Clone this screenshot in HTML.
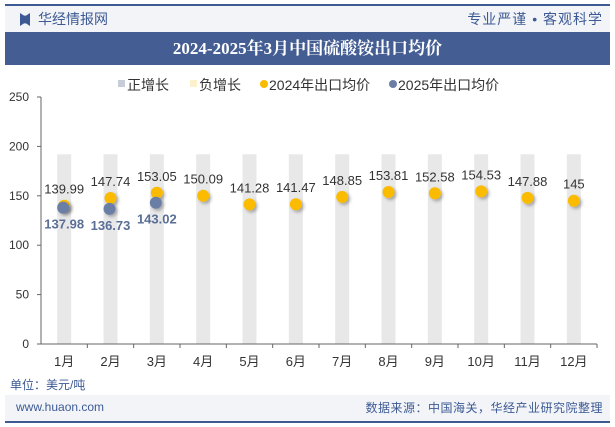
<!DOCTYPE html>
<html><head><meta charset="utf-8"><style>
body{margin:0;width:615px;height:427px;overflow:hidden;background:#fff;font-family:"Liberation Sans","Noto Sans CJK SC",sans-serif;position:relative}
.abs{position:absolute}
</style></head><body>
<div class="abs" style="left:5px;top:4px;width:605px;height:2px;background:#3d5a94"></div>
<div class="abs" style="left:5px;top:6px;width:605px;height:26px;background:#f2f4f8"></div>
<div class="abs" style="left:20px;top:13px;width:10px;height:13px;background:#3d5a94;clip-path:polygon(0 0,40% 20%,60% 20%,100% 0,100% 100%,60% 80%,40% 80%,0 100%)"></div>
<div class="abs" style="left:38px;top:9px;font-size:14px;color:#3d5a94">华经情报网</div>
<div class="abs" style="right:12px;top:9px;font-size:14px;color:#3d5a94;letter-spacing:1px">专业严谨 • 客观科学</div>
<div class="abs" style="left:5px;top:32px;width:605px;height:33px;background:#445d93;color:#fff;font:bold 17px 'Liberation Serif','Noto Serif CJK SC',serif;text-align:center;line-height:33px">2024-2025年3月中国硫酸铵出口均价</div>
<svg class="abs" style="left:0;top:0" width="615" height="427" id="chart"></svg>
<div class="abs" style="left:10px;top:376px;font-size:12px;color:#3d5a94">单位：美元/吨</div>
<div class="abs" style="left:5px;top:395px;width:605px;height:26px;background:#f2f4f8"></div>
<div class="abs" style="left:16px;top:400px;font-size:12px;color:#3d5a94">www.huaon.com</div>
<div class="abs" style="right:12px;top:399px;font-size:12px;color:#3d5a94;letter-spacing:0.5px">数据来源：中国海关，华经产业研究院整理</div>
<div class="abs" style="left:5px;top:421px;width:605px;height:2px;background:#3d5a94"></div>
<script>
const categories=["1月","2月","3月","4月","5月","6月","7月","8月","9月","10月","11月","12月"];
const s2024=[139.99,147.74,153.05,150.09,141.28,141.47,148.85,153.81,152.58,154.53,147.88,145];
const s2025=[137.98,136.73,143.02];
const bgBars=[192,192,192,192,192,192,192,192,192,192,192,192];
const yTicks=[0,50,100,150,200,250];
const NS="http://www.w3.org/2000/svg";
const svg=document.getElementById('chart');
const x0=41,x1=597,y0=344,yTop=97,yMax=250;
const cw=(x1-x0)/categories.length;
const X=i=>x0+cw*(i+0.5);
const Y=v=>y0-(v/yMax)*(y0-yTop);
function mk(t,a,txt){const e=document.createElementNS(NS,t);for(const k in a)e.setAttribute(k,a[k]);if(txt!==undefined)e.textContent=txt;svg.appendChild(e);return e;}
const defs=mk('defs',{});defs.innerHTML='<filter id="sh" x="-50%" y="-50%" width="200%" height="200%"><feDropShadow dx="2" dy="2" stdDeviation="1.5" flood-color="#000" flood-opacity="0.3"/></filter>';
let g=mk('rect',{x:118,y:80,width:7,height:7,fill:'#c6ccd8'});
mk('text',{x:127,y:90,'font-size':14,fill:'#333'},'正增长');
g=mk('rect',{x:190,y:80,width:7,height:7,fill:'#fdf0cc'});
mk('text',{x:199,y:90,'font-size':14,fill:'#333'},'负增长');
g=mk('circle',{cx:264,cy:84,r:4,fill:'#fbbb00'});
mk('text',{x:269,y:90,'font-size':14,fill:'#333'},'2024年出口均价');
g=mk('circle',{cx:393,cy:84,r:4,fill:'#6a7ea6'});
mk('text',{x:398,y:90,'font-size':14,fill:'#333'},'2025年出口均价');
yTicks.forEach(v=>{const t=mk('text',{x:29,y:Y(v)+4,'font-size':12,fill:'#333','text-anchor':'end'},v);mk('line',{x1:37,x2:x0,y1:Y(v),y2:Y(v),stroke:'#666'});});
mk('line',{x1:x0,x2:x0,y1:yTop,y2:y0,stroke:'#666'});
bgBars.forEach((v,i)=>{const r=mk('rect',{x:X(i)-7,y:Y(v),width:14,height:y0-Y(v),fill:'#e8e8e8'});});
mk('line',{x1:x0,x2:x1,y1:y0,y2:y0,stroke:'#666'});
categories.forEach((c,i)=>{mk('line',{x1:x0+cw*(i+1),x2:x0+cw*(i+1),y1:y0,y2:y0+4,stroke:'#666'});const t=mk('text',{x:X(i),y:366,'font-size':13,fill:'#333','text-anchor':'middle'},c);});
s2024.forEach((v,i)=>{const c=mk('circle',{cx:X(i),cy:Y(v),r:6,fill:'#fbbb00',filter:'url(#sh)'});
const l=mk('text',{x:X(i),y:Y(v)-12,'font-size':13,fill:'#333','text-anchor':'middle'},v);});
s2025.forEach((v,i)=>{const c=mk('circle',{cx:X(i)-1,cy:Y(v),r:6,fill:'#6a7ea6',filter:'url(#sh)'});
const l=mk('text',{x:X(i),y:Y(v)+21,'font-size':13,'font-weight':'bold',fill:'#5a6e96','text-anchor':'middle'},v.toFixed(2));});
</script>
</body></html>
